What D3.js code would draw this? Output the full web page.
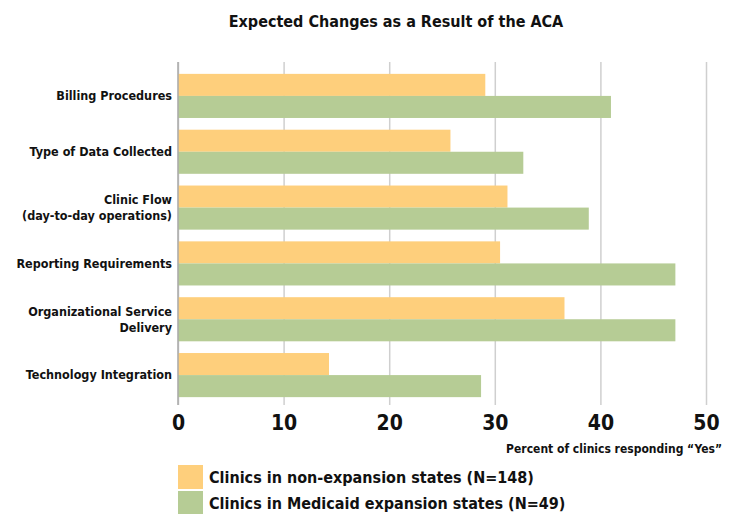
<!DOCTYPE html>
<html>
<head>
<meta charset="utf-8">
<title>Expected Changes as a Result of the ACA</title>
<script src="https://d3js.org/d3.v7.min.js"></script>
<style>
  body { margin: 0; background: #fff; }
  svg text { font-family: "Liberation Sans Narrow", "DejaVu Sans Condensed", "Open Sans", sans-serif; font-weight: bold; fill: #111; }
</style>
</head>
<body>
<div id="container"></div>
<script>
// Data
const categories = [
    ["Billing Procedures"],
    ["Type of Data Collected"],
    ["Clinic Flow", "(day-to-day operations)"],
    ["Reporting Requirements"],
    ["Organizational Service", "Delivery"],
    ["Technology Integration"]
]
const nonExpansion = [29.1, 25.8, 31.2, 30.5, 36.6, 14.3]
const expansion = [41.0, 32.7, 38.9, 47.1, 47.1, 28.7]
const xTicks = [0, 10, 20, 30, 40, 50]
const seriesNames = ["Clinics in non-expansion states (N=148)", "Clinics in Medicaid expansion states (N=49)"]
const seriesColors = ["#FECF7C", "#B6CC95"]

const w = 734
const h = 514
const plotLeft = 178
const plotRight = 706
const plotTop = 62
const plotBottom = 405

const svg = d3.select("#container")
    .append("svg")
    .attr("width", w)
    .attr("height", h)

const xScale = d3.scaleLinear()
    .domain([0, 50])
    .range([plotLeft, plotRight])

const yScale = d3.scaleBand()
    .domain(categories.map((d, i) => i))
    .range([plotTop + 6, plotBottom - 2])
    .paddingInner(0.21)
    .paddingOuter(0.105)

// Title
svg.append("text")
    .attr("x", 396)
    .attr("y", 27)
    .attr("text-anchor", "middle")
    .style("font-size", "16px")
    .text("Expected Changes as a Result of the ACA")

// Grid + axis
const xAxis = d3.axisBottom(xScale)
    .tickValues(xTicks)
    .tickSize(-(plotBottom - plotTop))
    .tickPadding(8)

const gx = svg.append("g")
    .attr("transform", "translate(0," + plotBottom + ")")
    .call(xAxis)
gx.select(".domain").remove()
gx.selectAll(".tick line").attr("stroke", "#cfcfcf").attr("stroke-width", 1.5)
gx.selectAll(".tick text")
    .style("font-size", "21px")
    .attr("dy", "0.8em")

// Bars
const half = yScale.bandwidth() / 2
const groups = svg.append("g")
    .selectAll("g")
    .data(categories)
    .join("g")

groups.append("rect")
    .attr("x", xScale(0))
    .attr("y", (d, i) => yScale(i))
    .attr("width", (d, i) => xScale(nonExpansion[i]) - xScale(0))
    .attr("height", half)
    .attr("fill", seriesColors[0])

groups.append("rect")
    .attr("x", xScale(0))
    .attr("y", (d, i) => yScale(i) + half)
    .attr("width", (d, i) => xScale(expansion[i]) - xScale(0))
    .attr("height", half)
    .attr("fill", seriesColors[1])

// left axis line
svg.append("line")
    .attr("x1", xScale(0)).attr("x2", xScale(0))
    .attr("y1", plotTop).attr("y2", plotBottom)
    .attr("stroke", "#aaa")
    .attr("stroke-width", 1.5)

// Category labels
groups.append("text")
    .attr("x", plotLeft - 6)
    .attr("y", (d, i) => yScale(i) + half - (d.length - 1) * 8)
    .attr("text-anchor", "end")
    .style("font-size", "12.5px")
    .selectAll("tspan")
    .data(d => d)
    .join("tspan")
    .attr("x", plotLeft - 6)
    .attr("dy", (d, i) => i === 0 ? "0.35em" : "16px")
    .text(d => d)

// Axis title
svg.append("text")
    .attr("x", 722)
    .attr("y", 453)
    .attr("text-anchor", "end")
    .style("font-size", "12px")
    .text("Percent of clinics responding \u201CYes\u201D")

// Legend
const legend = svg.append("g")
    .selectAll("g")
    .data(seriesNames)
    .join("g")
    .attr("transform", (d, i) => "translate(178," + (465 + i * 26) + ")")

legend.append("rect")
    .attr("width", 25)
    .attr("height", 24)
    .attr("fill", (d, i) => seriesColors[i])

legend.append("text")
    .attr("x", 31)
    .attr("y", 18)
    .style("font-size", "16px")
    .text(d => d)
</script>
</body>
</html>
